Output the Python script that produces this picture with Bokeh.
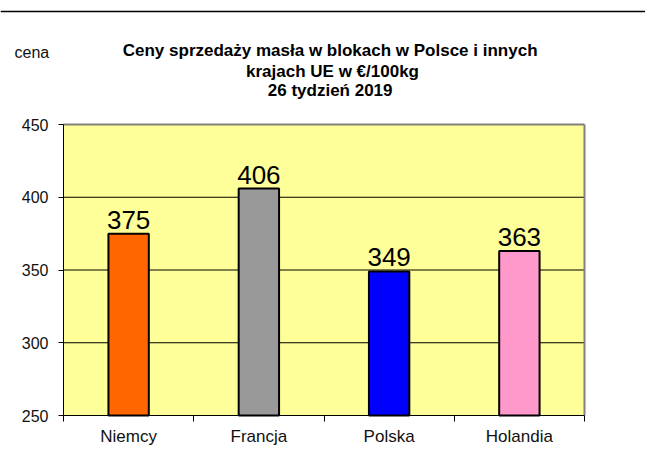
from bokeh.plotting import figure
from bokeh.models import Range1d, FixedTicker, LabelSet, ColumnDataSource, BoxAnnotation, Span
from bokeh.core.properties import value
from bokeh.embed import file_html
from bokeh.resources import INLINE

categories = ["Niemcy", "Francja", "Polska", "Holandia"]
prices = [375, 406, 349, 363]
bar_colors = ["#FF6600", "#999999", "#0000FF", "#FF99CC"]
y_ticks = [250, 300, 350, 400, 450]
title_lines = ["Ceny sprzedaży masła w blokach w Polsce i  innych",
               "krajach UE w €/100kg",
               "26  tydzień 2019"]
y_label = "cena"

FONT = "Liberation Sans"
n = len(categories)
y_min, y_max = y_ticks[0], y_ticks[-1]
x_centers = [i + 0.5 for i in range(n)]
boundaries = [float(i) for i in range(n + 1)]

# ---- layout (pixels inside the canvas) ----
W, H = 645, 446
PL, PR, PT, PB = 63, 584, 124, 415          # plot-area edges
px_x = (PR - PL) / n
px_y = (PB - PT) / (y_max - y_min)
x_start = 0 - PL / px_x
x_end = n + (W - PR) / px_x
y_end = y_max + PT / px_y
y_start = y_min - (H - PB) / px_y
fx = lambda px: x_start + px / px_x
fy = lambda py: y_end - py / px_y

p = figure(width=W, height=H, output_backend="svg", toolbar_location=None,
           x_range=Range1d(x_start, x_end), y_range=Range1d(y_start, y_end),
           min_border=0)
p.background_fill_color = "white"
p.border_fill_color = "white"
p.outline_line_color = None
p.xgrid.grid_line_color = None
p.ygrid.grid_line_color = None

# plot area background
p.add_layout(BoxAnnotation(left=0, right=n, bottom=y_min, top=y_max,
                           fill_color="#FFFF99", fill_alpha=1.0,
                           line_color=None, level="underlay"))

# grid lines at inner ticks
inner = y_ticks[1:-1]
p.segment(x0=[0] * len(inner), x1=[n] * len(inner), y0=inner, y1=inner,
          line_color="black", line_width=1)
# grey top and right border of the plot area
p.segment(x0=[0, n], y0=[y_max, y_min], x1=[n, n], y1=[y_max, y_max],
          line_color="#808080", line_width=2)

source = ColumnDataSource(dict(
    x=x_centers, price=prices, color=bar_colors,
    label=[str(v) for v in prices],
))
p.vbar(x="x", top="price", bottom=y_min, width=0.31, source=source,
       fill_color="color", line_color="black", line_width=2)

# axes
p.yaxis.fixed_location = 0
p.yaxis.bounds = (y_min, y_max)
p.yaxis.ticker = FixedTicker(ticks=y_ticks)
p.yaxis.major_tick_out = 5
p.yaxis.major_tick_in = 0
p.yaxis.minor_tick_line_color = None
p.yaxis.axis_line_color = "black"
p.yaxis.major_tick_line_color = "black"
p.yaxis.major_label_text_font = FONT
p.yaxis.major_label_text_font_size = "16px"
p.yaxis.major_label_text_color = "#111111"
p.yaxis.major_label_standoff = 10

p.xaxis.fixed_location = y_min
p.xaxis.bounds = (0, n)
p.xaxis.ticker = FixedTicker(ticks=x_centers, minor_ticks=boundaries)
p.xaxis.major_label_overrides = {x: c for x, c in zip(x_centers, categories)}
p.xaxis.major_tick_out = 0
p.xaxis.major_tick_in = 0
p.xaxis.minor_tick_out = 6
p.xaxis.minor_tick_in = 0
p.xaxis.minor_tick_line_color = "black"
p.xaxis.axis_line_color = "black"
p.xaxis.major_label_text_font = FONT
p.xaxis.major_label_text_font_size = "17px"
p.xaxis.major_label_text_color = "#111111"
p.xaxis.major_label_standoff = 5

# value labels
p.add_layout(LabelSet(x="x", y="price", text="label", source=source,
                      text_align="center", text_baseline="alphabetic", y_offset=5,
                      text_font=value(FONT), text_font_size="26px", text_color="black"))

# title
title_baselines = [50, 71, 90]
p.text(x=[fx(332)] * len(title_lines), y=[fy(b) for b in title_baselines], text=title_lines,
       text_align="center", text_baseline="alphabetic", text_font=value(FONT),
       text_font_size="17px", text_font_style="bold", text_color="black")

# y label
p.text(x=[fx(14)], y=[fy(52)], text=[y_label], text_align="left", text_baseline="alphabetic",
       text_font=value(FONT), text_font_size="16px", text_color="#111111")

# top rule
p.add_layout(Span(location=fy(11), dimension="width", line_color="black", line_width=1.5))

open("out.html", "w").write(file_html(p, INLINE))
